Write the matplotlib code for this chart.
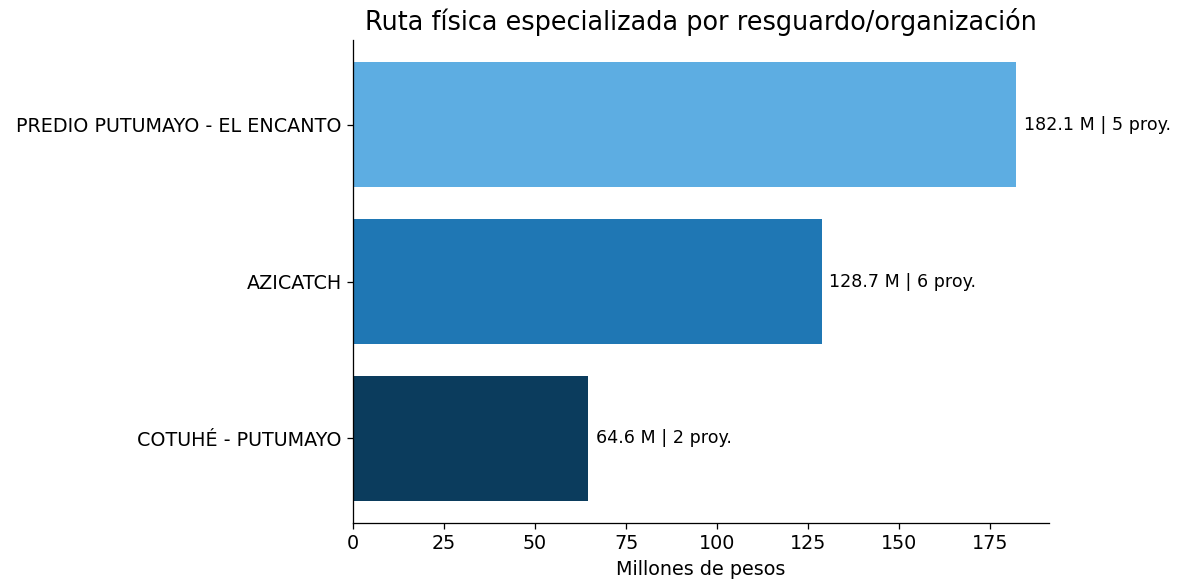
import matplotlib.pyplot as plt

# Datos (millones de pesos y número de proyectos)
organizaciones = ['COTUHÉ - PUTUMAYO', 'AZICATCH', 'PREDIO PUTUMAYO - EL ENCANTO']
montos = [64.6, 128.7, 182.1]
proyectos = [2, 6, 5]
colores = ['#0B3C5D', '#1F77B4', '#5DADE2']

s = 1.15  # escala de la figura original

fig = plt.figure(figsize=(11.77, 5.83), dpi=100)
ax = fig.add_axes([0.2999, 0.1029, 0.5914, 0.8285])

bars = ax.barh(organizaciones, montos, color=colores)

for bar, m, p in zip(bars, montos, proyectos):
    ax.text(bar.get_width() + max(montos) * 0.012, bar.get_y() + bar.get_height() / 2,
            f'{m:.1f} M | {p} proy.', va='center', ha='left', fontsize=11 * s)

ax.set_xlim(0, max(montos) * 1.05)
ax.set_title('Ruta física especializada por resguardo/organización', fontsize=16 * s, pad=6 * s)
ax.set_xlabel('Millones de pesos', fontsize=12 * s, labelpad=4 * s)
ax.tick_params(axis='both', labelsize=12 * s, length=3.5 * s, width=0.8 * s, pad=3.5 * s)
ax.spines['top'].set_visible(False)
ax.spines['right'].set_visible(False)
ax.spines['left'].set_linewidth(0.8 * s)
ax.spines['bottom'].set_linewidth(0.8 * s)

plt.savefig('out.png', dpi=100)
